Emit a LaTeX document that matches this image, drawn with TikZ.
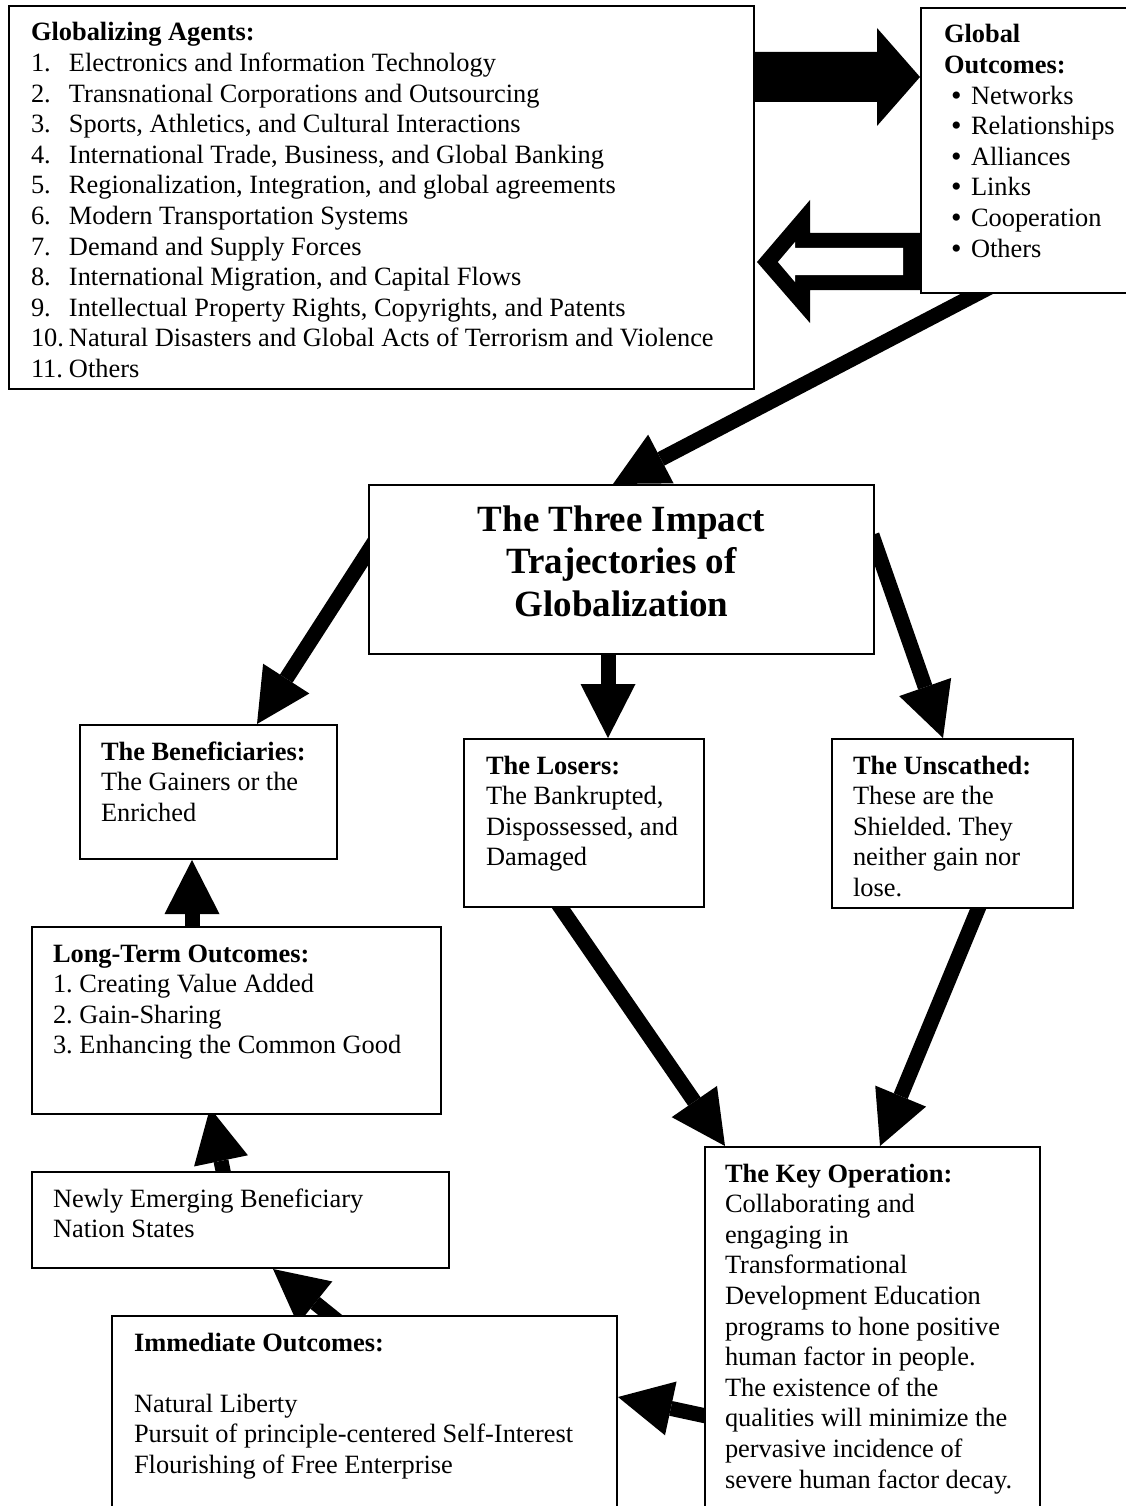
\documentclass[tikz,border=0pt]{standalone}
\usepackage{fontspec}
\setmainfont{Liberation Serif}
\usetikzlibrary{arrows.meta}
\pgfdeclarelayer{back}
\pgfsetlayers{back,main}
\frenchspacing
\newcommand{\boxbody}[3]{\parbox[t][#2][t]{#1}{\rule{0pt}{35pt}#3}}
\newcommand{\bul}{\hspace*{7pt}\makebox[20pt][l]{\smash{\raisebox{-1pt}{\fontsize{30}{30}\selectfont•}}}}
\tikzset{
	panel/.style={draw,fill=white,line width=2pt,anchor=north west,inner ysep=0pt,inner xsep=#1,font=\fontsize{26.4}{30.6}\selectfont},
	panel/.default=21pt,
	fat/.style={line width=15pt,-{Triangle[length=54pt,width=55pt,line width=0pt]}}
}

\begin{document}
\begin{tikzpicture}[x=1pt,y=-1pt]
	\useasboundingbox (0,0) rectangle (1126,1506);

	\node [panel=22pt] (agents) at (8,5) {\boxbody{701pt}{383pt}{\textbf{Globalizing Agents:}\\
		\makebox[38pt][l]{1.}Electronics and Information Technology\\
		\makebox[38pt][l]{2.}Transnational Corporations and Outsourcing\\
		\makebox[38pt][l]{3.}Sports, Athletics, and Cultural Interactions\\
		\makebox[38pt][l]{4.}International Trade, Business, and Global Banking\\
		\makebox[38pt][l]{5.}Regionalization, Integration, and global agreements\\
		\makebox[38pt][l]{6.}Modern Transportation Systems\\
		\makebox[38pt][l]{7.}Demand and Supply Forces\\
		\makebox[38pt][l]{8.}International Migration, and Capital Flows\\
		\makebox[38pt][l]{9.}Intellectual Property Rights, Copyrights, and Patents\\
		\makebox[38pt][l]{10.}Natural Disasters and Global Acts of Terrorism and Violence\\
		\makebox[38pt][l]{11.}Others}};
	\node [panel=23pt] (outcomes) at (920,7) {\boxbody{174pt}{285pt}{\textbf{Global}\\
		\textbf{Outcomes:}\\
		\bul Networks\\
		\bul Relationships\\
		\bul Alliances\\
		\bul Links\\
		\bul Cooperation\\
		\bul Others}};
	\node [panel=0pt] (title) at (368,484) {\parbox[t][169pt][t]{505pt}{\centering\fontsize{37}{42.5}\selectfont\bfseries
		\rule{0pt}{46pt}The Three Impact\\ Trajectories of\\ Globalization}};
	\node [panel] (gainers) at (79,724) {\boxbody{215pt}{134pt}{\textbf{The Beneficiaries:}\\ The Gainers or the\\ Enriched}};
	\node [panel=22pt] (losers) at (463,738) {\boxbody{196pt}{168pt}{\textbf{The Losers:}\\ The Bankrupted,\\ Dispossessed, and\\ Damaged}};
	\node [panel] (unscathed) at (831,738) {\boxbody{199pt}{169pt}{\textbf{The Unscathed:}\\ These are the\\ Shielded. They\\ neither gain nor\\ lose.}};
	\node [panel] (longterm) at (31,926) {\boxbody{367pt}{187pt}{\textbf{Long-Term Outcomes:}\\ 1. Creating Value Added\\ 2. Gain-Sharing\\ 3. Enhancing the Common Good}};
	\node [panel] (newly) at (31,1171) {\boxbody{375pt}{96pt}{Newly Emerging Beneficiary\\ Nation States}};
	\node [panel=22pt] (immediate) at (111,1315) {\boxbody{461pt}{215pt}{\textbf{Immediate Outcomes:}\\[30.6pt]
		Natural Liberty\\ Pursuit of principle-centered Self-Interest\\ Flourishing of Free Enterprise}};
	\node [panel=20pt] (keyop) at (704,1146) {\boxbody{295pt}{380pt}{\textbf{The Key Operation:}\\
		Collaborating and\\ engaging in\\ Transformational\\ Development Education\\ programs to hone positive\\
		human factor in people.\\ The existence of the\\ qualities will minimize the\\ pervasive incidence of\\ severe human factor decay.}};

	\begin{pgfonlayer}{back}
		\fill (agents.east |- 0,52) -- (877,52) -- (877,28) -- (outcomes.west |- 0,77) -- (877,126) -- (877,102) -- (agents.east |- 0,102) -- cycle;
		\fill (outcomes.west |- 0,233) -- (810,233) -- (810,200) -- (757,262) -- (810,323) -- (810,290) -- (outcomes.west |- 0,290) -- cycle;
		\fill [white] (903,248) -- (795,248) -- (795,242) -- (778,262) -- (795,282) -- (795,275) -- (903,275) -- cycle;

		\draw [fat] ([xshift=70pt,yshift=7pt]outcomes.south west) -- ([xshift=245pt]title.north west);
		\draw [fat] ([xshift=12pt,yshift=-49pt]title.north west) -- ([xshift=178pt]gainers.north west);
		\draw [fat] ([xshift=240pt,yshift=8pt]title.south west) -- ([xshift=145pt]losers.north west);
		\draw [fat] ([xshift=-3pt,yshift=-51pt]title.north east) -- ([xshift=112pt]unscathed.north west);
		\draw [fat] ([xshift=89pt,yshift=13pt]losers.south west) -- ([xshift=21pt]keyop.north west);
		\draw [fat] ([xshift=152pt,yshift=12pt]unscathed.south west) -- ([xshift=176pt]keyop.north west);
		\draw [fat] ([xshift=16pt,yshift=-273pt]keyop.north west) -- ([yshift=-82pt]immediate.north east);
		\draw [fat] ([xshift=244pt,yshift=-20pt]immediate.north west) -- ([xshift=242pt]newly.south west);
		\draw [fat] ([xshift=195pt,yshift=-14pt]newly.north west) -- ([xshift=179pt,yshift=7pt]longterm.south west);
		\draw [fat] ([xshift=161pt,yshift=-14pt]longterm.north west) -- ([xshift=113pt]gainers.south west);
	\end{pgfonlayer}
\end{tikzpicture}
\end{document}
